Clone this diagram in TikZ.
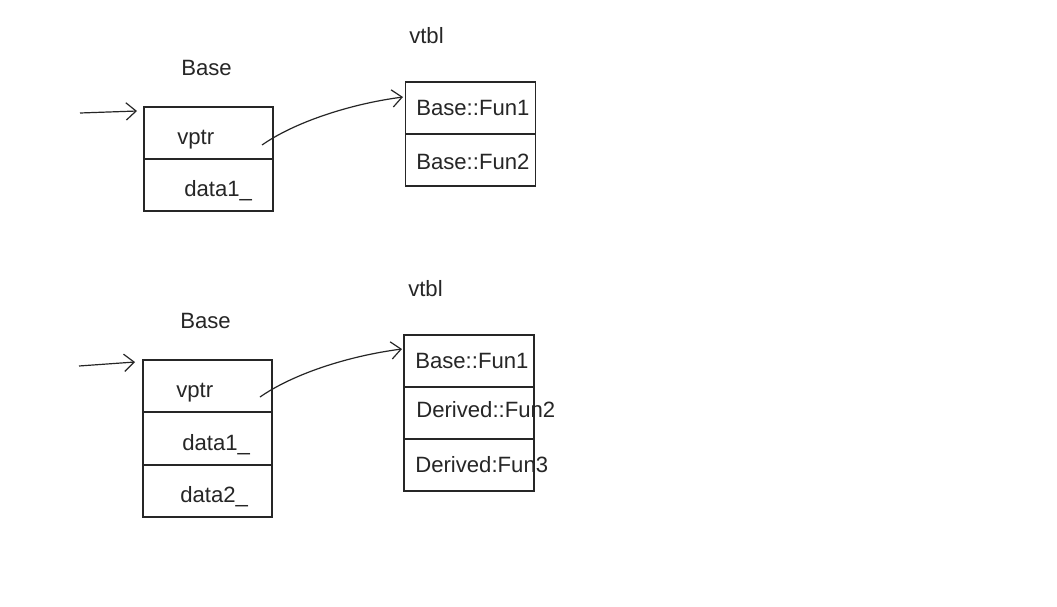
\documentclass[tikz,border=0pt]{standalone}
\usepackage{fontspec}
\setmainfont{Liberation Sans}
\usetikzlibrary{arrows.meta}
\definecolor{ink}{HTML}{262626}
\tikzset{
  cell/.style={draw=ink, line width=0.9pt, minimum height=39pt, inner sep=0pt},
  bw/.style={cell, minimum width=96.75pt},
  vw/.style={cell, minimum width=97.5pt},
  lbl/.style={anchor=base west, inner sep=0pt, text=ink, font=\fontsize{16.6}{19}\selectfont},
  hand/.style={draw=ink, line width=0.9pt, -{Straight Barb[length=7.5pt,width=13pt,line width=0.9pt]}},
}
\begin{document}
\begin{tikzpicture}[x=0.75pt,y=-0.75pt]
\useasboundingbox[fill=white] (0,0) rectangle (1057,607);
% ---------- top ----------
\node[lbl] (t1base) at (181,75) {Base};
\node[lbl] (t1vtbl) at (409,43) {vtbl};
\node[bw] (b1a) at (208.5,133) {};
\node[bw] (b1b) at (208.5,185) {};
\node[lbl] (t1vp) at (177,144) {vptr};
\node[lbl] (t1d1) at (184,196) {data1\_};
\node[vw] (v1a) at (470.5,108) {};
\node[vw] (v1b) at (470.5,160) {};
\node[lbl] (t1f1) at (416,115) {Base::Fun1};
\node[lbl] (t1f2) at (416,169) {Base::Fun2};
\coordinate (in1s) at (80,113);
\coordinate (in1e) at (137,111);
\draw[hand] (in1s) -- (in1e);
\coordinate (p1s) at (262,145);
\coordinate (p1e) at (403,97);
\draw[hand] (p1s) .. controls (295,122) and (350,104) .. (p1e);
% ---------- bottom ----------
\node[lbl] (t2base) at (180,328) {Base};
\node[lbl] (t2vtbl) at (408,296) {vtbl};
\node[bw] (b2a) at (207.5,386) {};
\node[bw] (b2b) at (207.5,438.5) {};
\node[bw] (b2c) at (207.5,491) {};
\node[lbl] (t2vp) at (176,397) {vptr};
\node[lbl] (t2d1) at (182,450) {data1\_};
\node[lbl] (t2d2) at (180,502) {data2\_};
\node[vw] (v2a) at (469,361) {};
\node[vw] (v2b) at (469,413) {};
\node[vw] (v2c) at (469,465) {};
\node[lbl] (t2f1) at (415,368) {Base::Fun1};
\node[lbl] (t2f2) at (416,417) {Derived::Fun2};
\node[lbl] (t2f3) at (415,472) {Derived:Fun3};
\coordinate (in2s) at (79,366);
\coordinate (in2e) at (135,362);
\draw[hand] (in2s) -- (in2e);
\coordinate (p2s) at (260,397);
\coordinate (p2e) at (402,349);
\draw[hand] (p2s) .. controls (293,374) and (348,356) .. (p2e);
\end{tikzpicture}
\end{document}
